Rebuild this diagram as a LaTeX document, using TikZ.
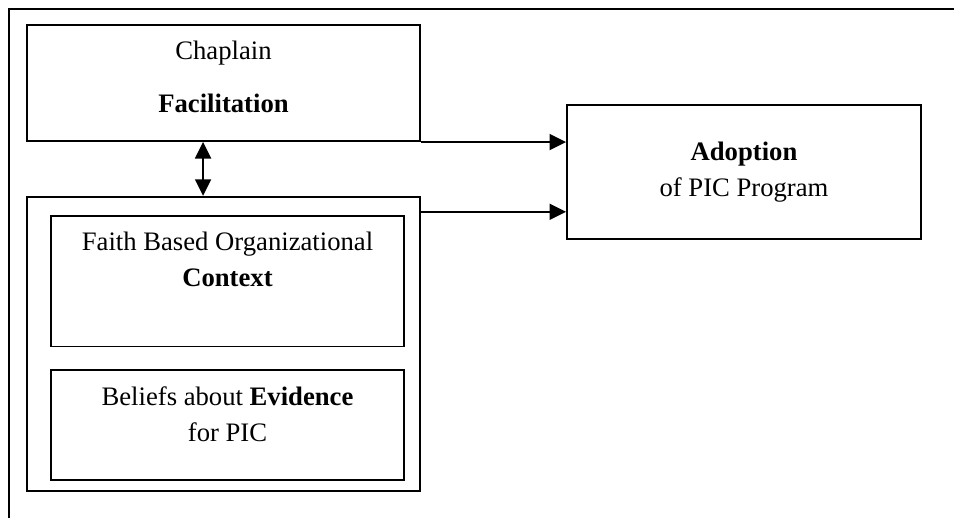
\documentclass[tikz,border=0pt]{standalone}
\usepackage{fontspec}
\setmainfont{Liberation Serif}
\usetikzlibrary{arrows.meta,positioning}

\begin{document}
\begin{tikzpicture}[
  x=0.45pt, y=-0.45pt,
  node distance=8.5mm,
  block/.style={rectangle, draw=black, thick, inner sep=0pt},
  boxtext/.style={inner sep=0pt, align=center, font=\fontsize{12pt}{16.2pt}\selectfont},
  line/.style={-{Triangle[length=7.4pt,width=7.2pt]}, thick},
  dline/.style={{Triangle[length=7.4pt,width=7.2pt]}-{Triangle[length=7.4pt,width=7.2pt]}, thick}
]
\useasboundingbox (0,0) rectangle (954,518);
\draw[thick] (954,9) -- (9,9) -- (9,518);

\node[block, minimum width=62.2mm, minimum height=18.4mm] (chap) at (223.5,83) {};
\node[boxtext, below=7.6pt of chap.north] (chaptxt) {Chaplain\\[7.6pt]\textbf{Facilitation}};

\node[block, minimum width=62.2mm, minimum height=46.6mm, below=of chap] (org) {};
\node[block, minimum width=55.8mm, minimum height=20.7mm, below=3mm of org.north, xshift=1.8pt] (ctx) {};
\node[boxtext, below=7.7pt of ctx.north] (ctxtxt) {Faith Based Organizational\\\textbf{Context}};
\node[block, minimum width=55.8mm, minimum height=17.4mm, below=3.4mm of ctx] (evid) {};
\node[boxtext, below=7.9pt of evid.north] (evidtxt) {Beliefs about \textbf{Evidence}\\for PIC};

\node[block, boxtext, minimum width=56mm, minimum height=21.2mm] (adopt) at (744,172) {\textbf{Adoption}\\of PIC Program};

\draw[line] (chap.south east) -- (chap.south east -| adopt.west);
\coordinate[below=7.2pt of org.north east] (orgout);
\draw[line] (orgout) -- (orgout -| adopt.west);
\draw[dline] ([xshift=-9.2pt]chap.south) -- ([xshift=-9.2pt]org.north);
\end{tikzpicture}
\end{document}
